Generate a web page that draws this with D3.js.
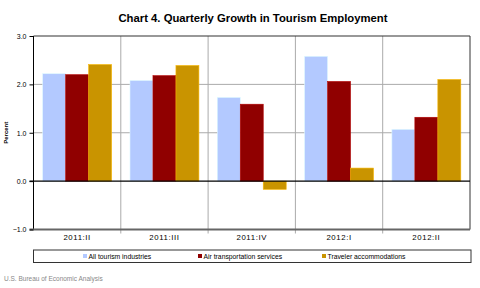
<!DOCTYPE html>
<html><head><meta charset="utf-8">
<script src="https://cdn.jsdelivr.net/npm/d3@7"></script>
<style>body{margin:0;background:#fff;} text{font-family:"Liberation Sans",Arial,sans-serif;}</style>
</head><body>
<svg id="c" width="480" height="288"></svg>
<script>
const categories = ["2011:II","2011:III","2011:IV","2012:I","2012:II"];
const seriesNames = ["All tourism industries","Air transportation services","Traveler accommodations"];
const allTourism = [2.22, 2.08, 1.73, 2.58, 1.07];
const airTransport = [2.20, 2.18, 1.59, 2.06, 1.32];
const travelerAccom = [2.41, 2.39, -0.17, 0.27, 2.10];
const yTicks = [-1.0, 0.0, 1.0, 2.0, 3.0];
const colors = ["#b3c9ff", "#900000", "#c99400"];
const series = [allTourism, airTransport, travelerAccom];

const svg = d3.select("#c");
const L = 33.5, R = 470, T = 36, B = 229.5;
const x = d3.scaleBand().domain(categories).range([L, R]).paddingInner(0).paddingOuter(0);
const xs = d3.scaleBand().domain(d3.range(3)).range([0, x.bandwidth()]).paddingOuter(0.4).paddingInner(0);
const y = d3.scaleLinear().domain([-1, 3]).range([B, T]);

svg.append("text").attr("x", 253).attr("y", 22).attr("text-anchor", "middle")
  .attr("font-size", 11.3).attr("font-weight", "bold").text("Chart 4. Quarterly Growth in Tourism Employment");

// gridlines
svg.append("g").selectAll("line").data([1, 2]).join("line")
  .attr("x1", L).attr("x2", R).attr("y1", d => y(d)).attr("y2", d => y(d))
  .attr("stroke", "#aaa").attr("stroke-width", 1);
svg.append("g").selectAll("line").data(categories.slice(1)).join("line")
  .attr("x1", d => x(d)).attr("x2", d => x(d)).attr("y1", T).attr("y2", B + 4)
  .attr("stroke", "#aaa").attr("stroke-width", 1);

// bars
const g = svg.append("g");
categories.forEach((c, i) => {
  series.forEach((s, j) => {
    const v = s[i];
    g.append("rect").attr("x", x(c) + xs(j)).attr("width", xs.bandwidth())
      .attr("y", y(Math.max(0, v))).attr("height", Math.abs(y(v) - y(0)))
      .attr("fill", colors[j]).attr("stroke", d3.color(colors[j]).brighter(0.6)).attr("stroke-width", 0.6);
  });
});

// frame
svg.append("line").attr("x1", L).attr("x2", R).attr("y1", T).attr("y2", T).attr("stroke", "#333").attr("stroke-width", 1.2);
svg.append("line").attr("x1", L).attr("x2", L).attr("y1", T).attr("y2", B).attr("stroke", "#000").attr("stroke-width", 1);
svg.append("line").attr("x1", R).attr("x2", R).attr("y1", T).attr("y2", B).attr("stroke", "#333").attr("stroke-width", 1);
svg.append("line").attr("x1", L - 4).attr("x2", R).attr("y1", B).attr("y2", B).attr("stroke", "#666").attr("stroke-width", 2);
svg.append("line").attr("x1", L - 4).attr("x2", R).attr("y1", y(0)).attr("y2", y(0)).attr("stroke", "#000").attr("stroke-width", 1.2);

// y axis
const yAxis = d3.axisLeft(y).tickValues(yTicks).tickFormat(d3.format(".1f")).tickSize(4).tickPadding(3);
const ya = svg.append("g").attr("transform", `translate(${L},0)`).call(yAxis);
ya.select(".domain").remove();
ya.selectAll("text").attr("font-size", 7).attr("fill", "#000");
ya.selectAll("line").attr("stroke", "#000");

svg.append("text").attr("transform", `translate(8,${y(1)}) rotate(-90)`).attr("text-anchor", "middle")
  .attr("font-size", 6).attr("font-weight", "bold").text("Percent");

// x axis
const xa = svg.append("g").attr("transform", `translate(0,${B})`).call(d3.axisBottom(x).tickSize(0).tickPadding(5));
xa.select(".domain").remove();
xa.selectAll("text").attr("font-size", 7.8).attr("letter-spacing", 0.6).attr("fill", "#000");

// legend
svg.append("rect").attr("x", L).attr("y", 250).attr("width", R - L + 1).attr("height", 12.5)
  .attr("fill", "#fff").attr("stroke", "#333").attr("stroke-width", 1);
const lx = [83, 198, 322];
seriesNames.forEach((n, j) => {
  svg.append("rect").attr("x", lx[j]).attr("y", 254).attr("width", 4).attr("height", 4).attr("fill", colors[j]);
  svg.append("text").attr("x", lx[j] + 5.5).attr("y", 259).attr("font-size", 6.8).text(n);
});

svg.append("text").attr("x", 4).attr("y", 281).attr("font-size", 6.5).attr("fill", "#888").text("U.S. Bureau of Economic Analysis");
</script>
</body></html>
